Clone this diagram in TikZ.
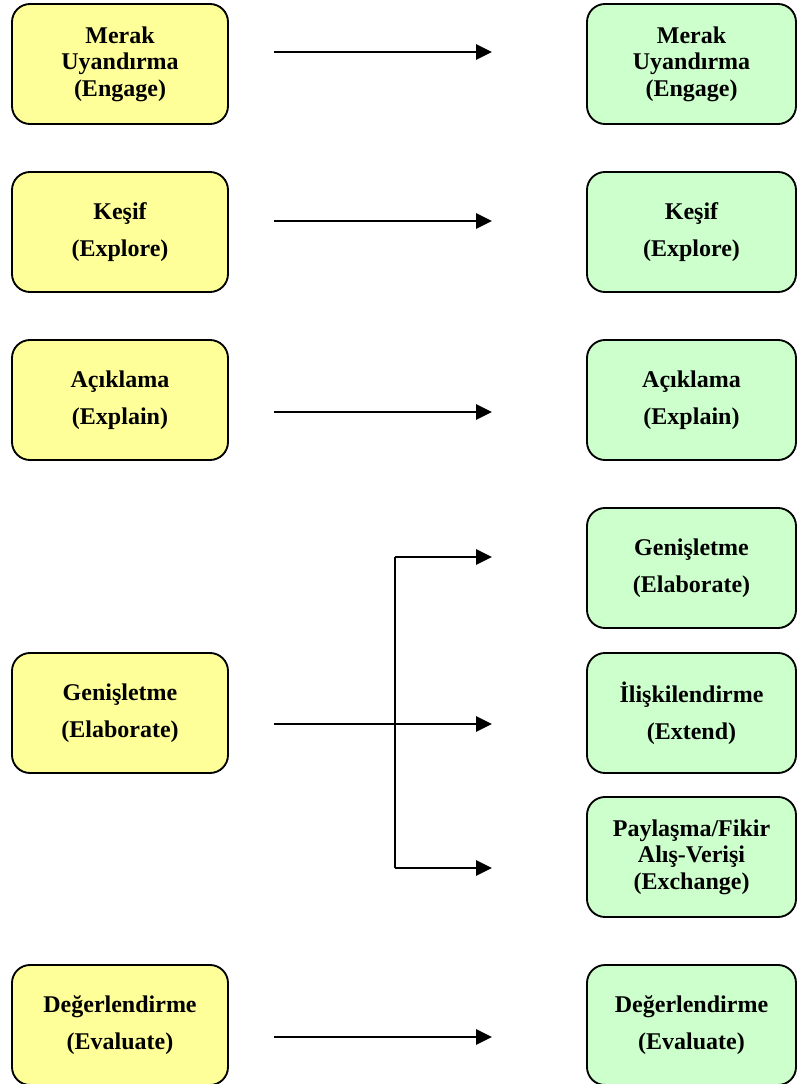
\documentclass[tikz,border=0pt]{standalone}
\usepackage{fontspec}
\setmainfont{Liberation Serif}
\usetikzlibrary{arrows.meta}
\definecolor{ybox}{HTML}{FFFF99}
\definecolor{gbox}{HTML}{CCFFCC}
\tikzset{
  phase/.style={draw=black, line width=1.4pt, rounded corners=13.5pt,
    minimum height=90pt, inner sep=0pt, align=center,
    font=\bfseries\fontsize{18}{27.75}\selectfont},
  three/.style={font=\bfseries\fontsize{18}{20}\selectfont},
  leftbox/.style={phase, fill=ybox, minimum width=162pt},
  rightbox/.style={phase, fill=gbox, minimum width=156.75pt},
  arr/.style={line width=1.5pt, -{Triangle[length=12pt,width=11.5pt]}},
  plain/.style={line width=1.5pt}
}
\begin{document}
\begin{tikzpicture}[x=0.75pt,y=-0.75pt]
\useasboundingbox (0,0) rectangle (797,1084);
% left column
\node[leftbox,three] (l1) at (120,64) {Merak\\Uyandırma\\(Engage)};
\node[leftbox] (l2) at (120,232) {Keşif\\(Explore)};
\node[leftbox] (l3) at (120,400) {Açıklama\\(Explain)};
\node[leftbox] (l4) at (120,713) {Genişletme\\(Elaborate)};
\node[leftbox] (l5) at (120,1025) {Değerlendirme\\(Evaluate)};
% right column
\node[rightbox,three] (r1) at (691.5,64) {Merak\\Uyandırma\\(Engage)};
\node[rightbox] (r2) at (691.5,232) {Keşif\\(Explore)};
\node[rightbox] (r3) at (691.5,400) {Açıklama\\(Explain)};
\node[rightbox] (r4) at (691.5,568) {Genişletme\\(Elaborate)};
\node[rightbox] (r5) at (691.5,713) {İlişkilendirme\\(Extend)};
\node[rightbox,three] (r6) at (691.5,857) {Paylaşma/Fikir\\Alış-Verişi\\(Exchange)};
\node[rightbox] (r7) at (691.5,1025) {Değerlendirme\\(Evaluate)};
% arrow coordinates
\coordinate (s1) at (274,52);  \coordinate (e1) at (492,52);
\coordinate (s2) at (274,221); \coordinate (e2) at (492,221);
\coordinate (s3) at (274,412); \coordinate (e3) at (492,412);
\coordinate (s4) at (274,724); \coordinate (e4) at (492,724);
\coordinate (s5) at (274,1037); \coordinate (e5) at (492,1037);
\coordinate (bt) at (395,557); \coordinate (ebt) at (492,557);
\coordinate (bb) at (395,868); \coordinate (ebb) at (492,868);
\draw[arr] (s1) -- (e1);
\draw[arr] (s2) -- (e2);
\draw[arr] (s3) -- (e3);
\draw[arr] (s4) -- (e4);
\draw[arr] (s5) -- (e5);
\draw[plain] (bt) -- (bb);
\draw[arr] (bt) -- (ebt);
\draw[arr] (bb) -- (ebb);
\end{tikzpicture}
\end{document}
